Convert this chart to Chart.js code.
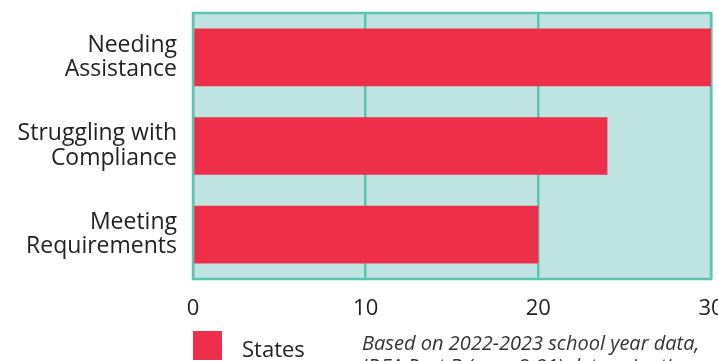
<!DOCTYPE html>
<html>
<head>
<meta charset="utf-8">
<script src="https://cdn.jsdelivr.net/npm/chart.js@4"></script>
<style>
  html, body { margin: 0; padding: 0; overflow: hidden; background: #fff; }
  #wrap { width: 718px; height: 361px; overflow: hidden; }
</style>
</head>
<body>
<div id="wrap"><canvas id="myChart" width="740" height="380"></canvas></div>
<script>
// data block
const categories = [['Needing', 'Assistance'], ['Struggling with', 'Compliance'], ['Meeting', 'Requirements']];
const stateCounts = [30, 24, 20];
const xTicks = [0, 10, 20, 30];
const seriesName = 'States';
const footnote = ['Based on 2022-2023 school year data,', 'IDEA Part B (ages 3-21) determinations'];

const teal = '#5cc5b0';
const tealBg = '#c0e4e1';
const red = '#ee2f4a';
const fontName = 'Open Sans';

// plot background + frame, drawn under the bars
const plotFrame = {
    id: 'plotFrame',
    beforeDatasetsDraw(chart) {
        const {ctx, chartArea: a} = chart;
        ctx.save();
        ctx.strokeStyle = teal;
        ctx.lineWidth = 2.5;
        ctx.strokeRect(a.left, a.top, a.right - a.left, a.bottom - a.top);
        ctx.restore();
    },
    beforeDraw(chart) {
        const {ctx, chartArea: a} = chart;
        ctx.save();
        ctx.fillStyle = tealBg;
        ctx.fillRect(a.left, a.top, a.right - a.left, a.bottom - a.top);
        ctx.restore();
    }
};

// legend square + note under the axis
const bottomNote = {
    id: 'bottomNote',
    afterDraw(chart) {
        const ctx = chart.ctx;
        const ds = chart.data.datasets[0];
        ctx.save();
        ctx.fillStyle = ds.backgroundColor;
        ctx.fillRect(193, 331, 29, 29);
        ctx.fillStyle = '#222';
        ctx.font = '22px "' + fontName + '"';
        ctx.textBaseline = 'alphabetic';
        ctx.fillText(ds.label, 242, 357);
        ctx.fillStyle = '#333';
        ctx.font = 'italic 20px "' + fontName + '"';
        footnote.forEach((line, i) => ctx.fillText(line, 362, 350 + i * 23));
        ctx.restore();
    }
};

const ctx = document.getElementById('myChart').getContext('2d');
const myChart = new Chart(ctx, {
    type: 'bar',
    data: {
        labels: categories,
        datasets: [{
            label: seriesName,
            data: stateCounts,
            backgroundColor: red,
            borderWidth: 0,
            categoryPercentage: 1,
            barPercentage: 0.65
        }]
    },
    options: {
        indexAxis: 'y',
        responsive: false,
        animation: false,
        layout: { padding: { top: 13, right: 29, left: 0, bottom: 0 } },
        plugins: {
            legend: { display: false },
            tooltip: { enabled: false }
        },
        scales: {
            x: {
                min: 0,
                max: 30,
                afterBuildTicks: scale => { scale.ticks = xTicks.map(v => ({value: v})); },
                afterFit: scale => { scale.height = 101; scale.paddingLeft = 0; scale.paddingRight = 0; },
                grid: { color: teal, lineWidth: 2.5, drawTicks: false },
                border: { display: false },
                ticks: { color: '#222', font: { family: fontName, size: 22 }, padding: 17, maxRotation: 0 }
            },
            y: {
                afterFit: scale => { scale.width = 193; scale.paddingTop = 0; scale.paddingBottom = 0; },
                grid: { display: false, drawTicks: false },
                border: { display: false },
                ticks: { color: '#222', font: { family: fontName, size: 23, lineHeight: 1.05 }, padding: 16 }
            }
        }
    },
    plugins: [plotFrame, bottomNote]
});
</script>
</body>
</html>
